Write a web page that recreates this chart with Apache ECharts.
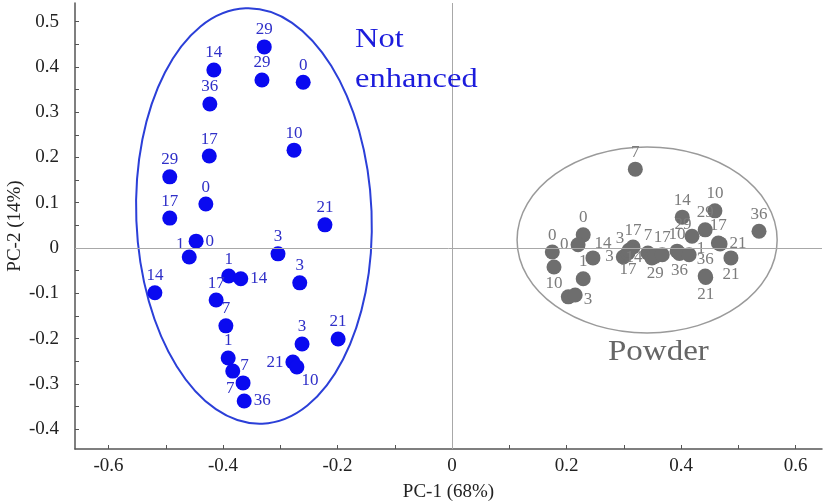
<!DOCTYPE html>
<html>
<head>
<meta charset="utf-8">
<script src="https://cdn.jsdelivr.net/npm/echarts@6/dist/echarts.min.js"></script>
<style>
html,body{margin:0;padding:0;background:#fff;}
#chart{width:824px;height:504px;}
</style>
</head>
<body>
<div id="chart"></div>
<script>
// ---- Data (PC-1, PC-2 scores and storage day labels) ----
const blueX = [-0.328,-0.332,-0.416,-0.260,-0.423,-0.424,-0.276,-0.493,-0.430,-0.493,-0.222,-0.447,-0.459,-0.304,-0.390,-0.369,-0.266,-0.519,-0.412,-0.395,-0.262,-0.199,-0.391,-0.278,-0.271,-0.383,-0.365,-0.363];
const blueY = [0.444,0.371,0.393,0.366,0.318,0.203,0.216,0.157,0.097,0.066,0.051,0.015,-0.020,-0.013,-0.062,-0.068,-0.077,-0.099,-0.115,-0.172,-0.212,-0.201,-0.243,-0.252,-0.263,-0.272,-0.298,-0.338];
const blueDay = ['29','29','14','0','36','17','10','29','0','17','21','0','1','3','1','14','3','14','17','7','3','21','1','21','10','7','7','36'];

const greyX = [0.320,0.229,0.220,0.175,0.178,0.203,0.215,0.229,0.246,0.299,0.307,0.316,0.309,0.342,0.349,0.355,0.367,0.393,0.397,0.414,0.442,0.443,0.419,0.442,0.402,0.459,0.465,0.468,0.487,0.536];
const greyY = [0.174,0.029,0.007,-0.009,-0.042,-0.108,-0.104,-0.068,-0.022,-0.020,-0.011,0.002,-0.005,-0.011,-0.022,-0.018,-0.015,-0.007,-0.012,-0.015,-0.062,-0.065,0.026,0.040,0.068,0.082,0.011,0.009,-0.022,0.037];
const greyDay = ['7','0','0','0','10','','3','1','14','3','17','17','3','7','14','29','17','10','36','1','36','21','29','29','14','10','17','21','21','36'];

// x / y tick labels
const xTicks = [-0.6,-0.4,-0.2,0,0.2,0.4,0.6];
const yTicks = [-0.4,-0.3,-0.2,-0.1,0,0.1,0.2,0.3,0.4,0.5];

// ---- Layout (label placement, annotation shapes) ----
const bluePlace = ['t','t','t','t','t','t','t','t','t','t','t','r','tl','t','t','r','t','t','t','t','t','t','t','l','br','rt','lb','r'];
const greyPlace = ['t','t','l','t','b','t','rb','t','tr','l','b','t','tl','t','l','b','t','t','b','rt','t','b','tl','t','t','t','t','r','b','t'];
// [centerX, centerY, radiusX, radiusY, rotation, stroke, width] in data units
const ellipses = [
  [-0.346, 0.0706, 0.2055, 0.459, 0.04, '#2b3fd8', 2],
  [0.3406, 0.0177, 0.2271, 0.2053, 0, '#9a9a9a', 1.5]
];

const SERIF = '"Liberation Serif","DejaVu Serif",serif';

// position, distance, pixel shift
const PLACE = {
  t: ['top', 1, 0, 0],
  b: ['bottom', 1, 0, 0],
  l: ['left', 2, 0, 0],
  r: ['right', 2, 0, 0],
  tl: ['top', 1, -9, 5],
  tr: ['top', 1, 10, 3],
  rt: ['right', 0, 0, -6],
  rb: ['right', 1, 0, 4],
  lb: ['left', 1, 0, 6],
  br: ['bottom', 1, 13, -4]
};

function labelFor(place, text, color) {
  const p = PLACE[place];
  return {show: text !== '', formatter: text, color: color, fontFamily: SERIF, fontSize: 17, position: p[0], distance: p[1]};
}
function layoutFor(places) {
  return function (params) {
    const p = PLACE[places[params.dataIndex]];
    return {dx: p[2], dy: p[3], hideOverlap: false, moveOverlap: false};
  };
}

const blueData = blueX.map((x, i) => ({value: [x, blueY[i]], label: labelFor(bluePlace[i], blueDay[i], '#2f2fc8')}));
const greyData = greyX.map((x, i) => ({value: [x, greyY[i]], label: labelFor(greyPlace[i], greyDay[i], '#7c7c7c')}));

const chart = echarts.init(document.getElementById('chart'), null, {renderer: 'canvas'});

const option = {
  animation: false,
  backgroundColor: '#fff',
  grid: {left: 75, right: 2, top: 3, bottom: 55, containLabel: false, outerBoundsMode: 'none'},
  xAxis: {
    type: 'value', min: -0.6585, max: 0.646,
    name: 'PC-1 (68%)', nameLocation: 'middle', nameGap: 34, nameMoveOverlap: false,
    nameTextStyle: {fontFamily: SERIF, fontSize: 19, color: '#222'},
    axisLine: {show: true, onZero: false, lineStyle: {color: '#555', width: 1.5}},
    axisTick: {show: true, inside: true, length: 4, customValues: [-0.6,-0.5,-0.4,-0.3,-0.2,-0.1,0,0.1,0.2,0.3,0.4,0.5,0.6], lineStyle: {color: '#555'}},
    axisLabel: {customValues: xTicks, formatter: v => String(Math.round(v * 10) / 10), fontFamily: SERIF, fontSize: 19, color: '#222', margin: 8},
    splitLine: {show: false}
  },
  yAxis: {
    type: 'value', min: -0.444, max: 0.541,
    name: 'PC-2 (14%)', nameLocation: 'middle', nameGap: 50, nameRotate: 90, nameMoveOverlap: false,
    nameTextStyle: {fontFamily: SERIF, fontSize: 19, color: '#222'},
    axisLine: {show: true, onZero: false, lineStyle: {color: '#555', width: 1.5}},
    axisTick: {show: true, inside: true, length: 4, customValues: [-0.4,-0.35,-0.3,-0.25,-0.2,-0.15,-0.1,-0.05,0,0.05,0.1,0.15,0.2,0.25,0.3,0.35,0.4,0.45,0.5], lineStyle: {color: '#555'}},
    axisLabel: {customValues: yTicks, formatter: v => String(Math.round(v * 10) / 10), fontFamily: SERIF, fontSize: 19, color: '#222', margin: 16},
    splitLine: {show: false}
  },
  series: [
    {
      type: 'custom', z: 1, silent: true,
      data: ellipses,
      renderItem: function (params, api) {
        const c = api.coord([api.value(0), api.value(1)]);
        const s = api.size([api.value(2), api.value(3)]);
        const e = ellipses[params.dataIndex];
        return {
          type: 'ellipse',
          x: c[0], y: c[1], rotation: e[4],
          shape: {cx: 0, cy: 0, rx: s[0], ry: s[1]},
          style: {fill: 'none', stroke: e[5], lineWidth: e[6]}
        };
      },
      markLine: {
        silent: true, symbol: ['none', 'none'], label: {show: false},
        lineStyle: {color: '#a8a8a8', width: 1, type: 'solid'},
        data: [{xAxis: 0}, {yAxis: 0}]
      }
    },
    {
      type: 'scatter', z: 3, symbolSize: 15, data: greyData,
      itemStyle: {color: '#6e6e6e', opacity: 1},
      labelLayout: layoutFor(greyPlace)
    },
    {
      type: 'scatter', z: 4, symbolSize: 15, data: blueData,
      itemStyle: {color: '#0a0af0', opacity: 1},
      labelLayout: layoutFor(bluePlace)
    }
  ],
  graphic: [
    {type: 'text', x: 355, y: 20, scaleX: 1.16, z: 10,
     style: {text: 'Not\nenhanced', font: '28px ' + SERIF, fill: '#1c1cdc', lineHeight: 40}},
    {type: 'text', x: 608, y: 337, scaleX: 1.1, z: 10,
     style: {text: 'Powder', font: '30px ' + SERIF, fill: '#666666', lineHeight: 30}}
  ]
};
chart.setOption(option);
</script>
</body>
</html>
